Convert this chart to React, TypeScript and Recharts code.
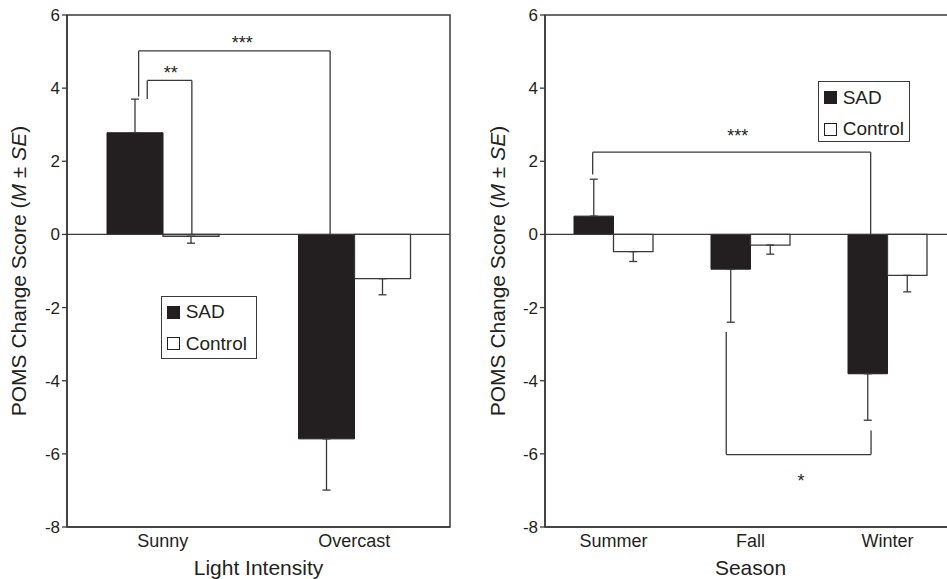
import React from 'react';
import {
  ComposedChart,
  Bar,
  ErrorBar,
  XAxis,
  YAxis,
  ReferenceLine,
  ReferenceArea,
  ReferenceDot,
  Legend,
} from 'recharts';

const FONT = '"Liberation Sans", Arial, Helvetica, sans-serif';
const INK = '#231f20';
const LINE = '#3a3a3a';

// ---- Light intensity panel ----
const lightCategories = ['Sunny', 'Overcast'];
const lightSad = [2.78, -5.59];
const lightSadSe = [0.92, 1.4];
const lightControl = [-0.05, -1.21];
const lightControlSe = [0.19, 0.44];

// ---- Season panel ----
const seasonCategories = ['Summer', 'Fall', 'Winter'];
const seasonSad = [0.5, -0.95, -3.81];
const seasonSadSe = [1.01, 1.45, 1.27];
const seasonControl = [-0.47, -0.29, -1.12];
const seasonControlSe = [0.27, 0.25, 0.45];

const yTicks = [-8, -6, -4, -2, 0, 2, 4, 6];
const yDomain = [-8, 6];
const legendOrder = ['SAD', 'Control'];

// significance brackets: x in category units from the plot's left edge, y in score units
const lightBrackets = [
  { x1: 0.374, x2: 1.374, y: 5.02, yLeft: 3.77, yRight: 0 },
  { x1: 0.419, x2: 0.652, y: 4.21, yLeft: 3.7, yRight: 0 },
];
const lightStars = [
  { x: 0.915, y: 5.34, text: '***' },
  { x: 0.542, y: 4.52, text: '**' },
];
const seasonBrackets = [
  { x1: 0.348, x2: 2.377, y: 2.25, yLeft: 1.64, yRight: 0 },
  { x1: 1.323, x2: 2.38, y: -6.02, yLeft: -2.67, yRight: -5.36 },
];
const seasonStars = [
  { x: 1.407, y: 2.81, text: '***' },
  { x: 1.869, y: -6.63, text: '*' },
];

const oneSided = (v: number, se: number) => (v >= 0 ? [0, se] : [se, 0]);

const makeLegend = (w: number, h: number) => (props: any) => {
  const payload = [...(props.payload || [])].sort(
    (a: any, b: any) => legendOrder.indexOf(a.value) - legendOrder.indexOf(b.value)
  );
  return (
    <div
      style={{
        width: w,
        height: h,
        boxSizing: 'border-box',
        border: `1.5px solid ${LINE}`,
        background: '#fff',
        fontFamily: FONT,
        fontSize: 19,
        color: INK,
        position: 'relative',
      }}
    >
      {payload.map((entry: any, i: number) => (
        <div
          key={i}
          style={{
            position: 'absolute',
            left: 5.5,
            top: 5.5 + i * 31.5,
            height: 20,
            display: 'flex',
            alignItems: 'center',
            whiteSpace: 'nowrap',
          }}
        >
          <span
            style={{
              display: 'inline-block',
              width: 13,
              height: 13,
              boxSizing: 'border-box',
              border: `1px solid ${INK}`,
              background: entry.value === 'SAD' ? INK : '#fff',
              marginRight: 5.5,
            }}
          />
          <span style={{ lineHeight: '20px' }}>{entry.value}</span>
        </div>
      ))}
    </div>
  );
};

type PanelProps = {
  categories: string[];
  sad: number[];
  sadSe: number[];
  control: number[];
  controlSe: number[];
  brackets: { x1: number; x2: number; y: number; yLeft: number; yRight: number }[];
  stars: { x: number; y: number; text: string }[];
  xLabel: string;
  width: number;
  margin: { top: number; right: number; bottom: number; left: number };
  barSize: number;
  yLabelX: number;
  legendLeft: number;
  legendTop: number;
  legendW: number;
  legendH: number;
};

function Panel(p: PanelProps) {
  const data = p.categories.map((name, i) => ({
    name,
    pos: i + 0.5,
    sad: p.sad[i],
    control: p.control[i],
    sadErr: oneSided(p.sad[i], p.sadSe[i]),
    controlErr: oneSided(p.control[i], p.controlSe[i]),
  }));
  const plotLeft = p.margin.left + 60;
  const plotRight = p.width - p.margin.right;
  const plotCenterX = (plotLeft + plotRight) / 2;
  const plotCenterY = (p.margin.top + 579 - 52) / 2;

  return (
    <ComposedChart
      width={p.width}
      height={579}
      data={data}
      margin={p.margin}
      barGap={0}
      barSize={p.barSize}
      style={{ fontFamily: FONT }}
    >
      <XAxis
        dataKey="name"
        height={52}
        tickLine={false}
        tickSize={6}
        tickMargin={1}
        axisLine={{ stroke: LINE, strokeWidth: 1.5 }}
        tick={{ fontSize: 18, fill: INK, fontFamily: FONT }}
        interval={0}
        label={() => (
          <text
            x={plotCenterX}
            y={575}
            textAnchor="middle"
            fontSize={21}
            fill={INK}
            fontFamily={FONT}
          >
            {p.xLabel}
          </text>
        )}
      />
      <XAxis
        xAxisId="n"
        dataKey="pos"
        type="number"
        domain={[0, p.categories.length]}
        allowDataOverflow
        hide
      />
      <YAxis
        domain={yDomain}
        ticks={yTicks}
        allowDataOverflow
        width={60}
        tickSize={5}
        tickMargin={2}
        interval={0}
        axisLine={{ stroke: LINE, strokeWidth: 1.5 }}
        tickLine={{ stroke: LINE, strokeWidth: 1.3 }}
        tick={{ fontSize: 17, fill: INK, fontFamily: FONT }}
        label={() => (
          <text
            x={p.yLabelX}
            y={plotCenterY}
            transform={`rotate(-90 ${p.yLabelX} ${plotCenterY})`}
            textAnchor="middle"
            dominantBaseline="central"
            fontSize={21}
            fill={INK}
            fontFamily={FONT}
          >
            POMS Change Score (<tspan fontStyle="italic">M</tspan> ±{' '}
            <tspan fontStyle="italic">SE</tspan>)
          </text>
        )}
      />
      <ReferenceArea
        y1={-8}
        y2={6}
        fill="none"
        fillOpacity={0}
        stroke={LINE}
        strokeWidth={1.5}
        ifOverflow="visible"
      />
      <ReferenceLine y={0} stroke={LINE} strokeWidth={1.3} />
      <Bar
        dataKey="sad"
        name="SAD"
        fill={INK}
        stroke={INK}
        strokeWidth={1}
        isAnimationActive={false}
      >
        <ErrorBar dataKey="sadErr" width={4} stroke={LINE} strokeWidth={1.3} direction="y" />
      </Bar>
      <Bar
        dataKey="control"
        name="Control"
        fill="#ffffff"
        stroke={LINE}
        strokeWidth={1.3}
        isAnimationActive={false}
      >
        <ErrorBar dataKey="controlErr" width={4} stroke={LINE} strokeWidth={1.3} direction="y" />
      </Bar>
      {p.brackets.map((b, i) => (
        <ReferenceLine
          key={`h${i}`}
          xAxisId="n"
          segment={[
            { x: b.x1, y: b.y },
            { x: b.x2, y: b.y },
          ]}
          stroke={LINE}
          strokeWidth={1.3}
          ifOverflow="visible"
        />
      ))}
      {p.brackets.map((b, i) => (
        <ReferenceLine
          key={`l${i}`}
          xAxisId="n"
          segment={[
            { x: b.x1, y: b.y },
            { x: b.x1, y: b.yLeft },
          ]}
          stroke={LINE}
          strokeWidth={1.3}
          ifOverflow="visible"
        />
      ))}
      {p.brackets.map((b, i) => (
        <ReferenceLine
          key={`r${i}`}
          xAxisId="n"
          segment={[
            { x: b.x2, y: b.y },
            { x: b.x2, y: b.yRight },
          ]}
          stroke={LINE}
          strokeWidth={1.3}
          ifOverflow="visible"
        />
      ))}
      {p.stars.map((s, i) => (
        <ReferenceDot
          key={`s${i}`}
          xAxisId="n"
          x={s.x}
          y={s.y}
          r={0}
          fill="none"
          stroke="none"
          ifOverflow="visible"
          label={(lp: any) => {
            const vb = lp.viewBox || {};
            const cx = (vb.x || 0) + (vb.width || 0) / 2;
            const cy = (vb.y || 0) + (vb.height || 0) / 2;
            return (
              <text
                x={cx}
                y={cy + 10}
                textAnchor="middle"
                fontSize={18}
                fill={INK}
                fontFamily={FONT}
              >
                {s.text}
              </text>
            );
          }}
        />
      ))}
      <Legend
        layout="vertical"
        align="center"
        verticalAlign="middle"
        content={makeLegend(p.legendW, p.legendH)}
        wrapperStyle={{ left: p.legendLeft, top: p.legendTop, width: p.legendW, height: p.legendH }}
      />
    </ComposedChart>
  );
}

export default function App() {
  return (
    <div
      style={{
        position: 'absolute',
        left: 0,
        top: 0,
        width: 947,
        height: 579,
        overflow: 'hidden',
        background: '#fff',
        fontFamily: FONT,
      }}
    >
      <div style={{ position: 'absolute', left: 0, top: 0, width: 470, height: 579 }}>
        <Panel
          categories={lightCategories}
          sad={lightSad}
          sadSe={lightSadSe}
          control={lightControl}
          controlSe={lightControlSe}
          brackets={lightBrackets}
          stars={lightStars}
          xLabel="Light Intensity"
          width={470}
          margin={{ top: 15, right: 20, bottom: 0, left: 7 }}
          barSize={56}
          yLabelX={18}
          legendLeft={160.7}
          legendTop={295.7}
          legendW={96}
          legendH={63}
        />
      </div>
      <div style={{ position: 'absolute', left: 480, top: 0, width: 480, height: 579 }}>
        <Panel
          categories={seasonCategories}
          sad={seasonSad}
          sadSe={seasonSadSe}
          control={seasonControl}
          controlSe={seasonControlSe}
          brackets={seasonBrackets}
          stars={seasonStars}
          xLabel="Season"
          width={480}
          margin={{ top: 15, right: 4, bottom: 0, left: 5 }}
          barSize={39.5}
          yLabelX={17}
          legendLeft={337.7}
          legendTop={81}
          legendW={92}
          legendH={61}
        />
      </div>
    </div>
  );
}
